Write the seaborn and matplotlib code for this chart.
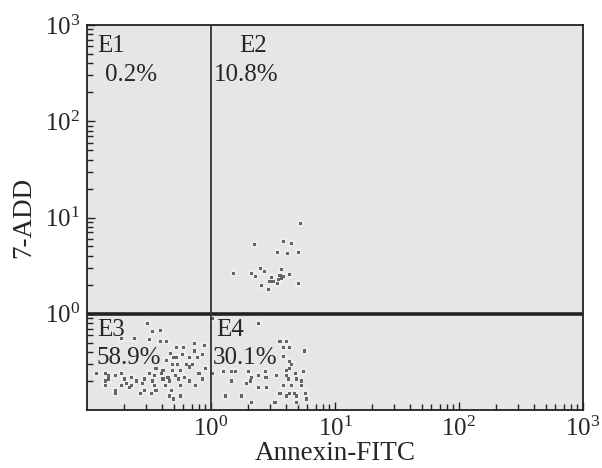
import numpy as np
import pandas as pd
import matplotlib
matplotlib.use("Agg")
import matplotlib.pyplot as plt
from matplotlib.ticker import LogLocator, NullFormatter
import seaborn as sns

sns.set_style("ticks")
plt.rcParams["font.family"] = ["Liberation Serif", "DejaVu Serif"]
plt.rcParams["mathtext.fontset"] = "custom"
plt.rcParams["mathtext.rm"] = "Liberation Serif"
plt.rcParams["mathtext.it"] = "Liberation Serif:italic"

# E2 cluster (late apoptotic)
e2_x = [5.30, 2.24, 4.46, 3.83, 3.45, 4.14, 5.05, 2.52, 2.69, 1.52, 2.13, 2.27, 3.08,
        3.71, 3.60, 3.71, 3.83, 3.53, 2.99, 3.18, 4.33, 2.56, 2.90, 5.05, 3.45]
e2_y = [8.70, 5.19, 5.40, 5.62, 4.36, 4.25, 4.36, 2.97, 2.75, 2.64, 2.64, 2.44, 2.40,
        2.86, 2.48, 2.34, 2.44, 2.25, 2.16, 2.16, 2.54, 1.95, 1.80, 2.05, 2.05]

# E3 cluster (live)
e3_x = [0.31, 0.34, 0.39, 0.19, 0.24, 0.32, 0.39, 0.44, 0.53, 0.60, 0.74, 0.88, 0.47,
        0.50, 0.53, 0.59, 0.67, 0.74, 0.78, 0.85, 0.44, 0.49, 0.54, 0.63, 0.71, 0.36,
        0.41, 0.49, 0.57, 0.67, 0.91, 0.12, 0.14, 0.15, 0.17, 0.19, 0.23, 0.32, 0.35,
        0.40, 0.45, 0.52, 0.61, 0.80, 0.14, 0.20, 0.25, 0.29, 0.34, 0.41, 0.46, 0.55,
        0.67, 0.85, 0.14, 0.19, 0.23, 0.28, 0.35, 0.43, 0.57, 0.17, 0.22, 0.29, 0.36,
        0.48, 0.75, 0.17, 0.33, 0.50, 0.57, 0.27, 0.15, 0.21, 0.46]
e3_y = [0.80, 0.65, 0.67, 0.55, 0.55, 0.54, 0.52, 0.51, 0.45, 0.45, 0.49, 0.47, 0.39,
        0.35, 0.35, 0.38, 0.35, 0.41, 0.35, 0.38, 0.33, 0.30, 0.30, 0.30, 0.30, 0.27,
        0.26, 0.26, 0.26, 0.28, 0.27, 0.24, 0.24, 0.23, 0.23, 0.24, 0.22, 0.24, 0.23,
        0.24, 0.22, 0.23, 0.22, 0.24, 0.20, 0.21, 0.20, 0.21, 0.20, 0.21, 0.20, 0.21,
        0.20, 0.21, 0.18, 0.18, 0.18, 0.19, 0.18, 0.18, 0.18, 0.16, 0.17, 0.16, 0.16,
        0.16, 0.18, 0.15, 0.15, 0.13, 0.14, 0.15, 0.21, 0.19, 0.14]

# E4 cluster (early apoptotic)
e4_x = [1.02, 2.41, 3.60, 4.07, 3.87, 4.27, 5.71, 3.87, 4.33, 4.46, 4.27, 4.07, 1.02,
        1.26, 1.47, 1.57, 2.00, 2.13, 2.41, 2.73, 2.78, 3.38, 4.07, 4.83, 5.53, 1.47,
        1.94, 2.07, 4.20, 4.89, 5.37, 3.83, 4.46, 2.41, 2.81, 5.37, 1.30, 1.77, 3.60,
        4.07, 4.33, 4.89, 4.75, 5.81, 3.28, 4.89, 5.89, 2.13]
e4_y = [0.89, 0.80, 0.51, 0.51, 0.45, 0.45, 0.41, 0.36, 0.32, 0.30, 0.27, 0.26, 0.24,
        0.25, 0.25, 0.25, 0.25, 0.22, 0.23, 0.25, 0.22, 0.23, 0.23, 0.24, 0.25, 0.20,
        0.19, 0.20, 0.21, 0.21, 0.20, 0.18, 0.18, 0.17, 0.17, 0.18, 0.14, 0.14, 0.15,
        0.14, 0.15, 0.14, 0.15, 0.15, 0.12, 0.12, 0.13, 0.12]

quadrants = ["E1", "E2", "E3", "E4"]
percents = ["0.2%", "10.8%", "58.9%", "30.1%"]

df = pd.DataFrame({
    "annexin": e2_x + e3_x + e4_x,
    "add": e2_y + e3_y + e4_y,
})

fig = plt.figure(figsize=(6.02, 4.68), dpi=100)
ax = fig.add_axes([0.1445, 0.1239, 0.8239, 0.8227])
ax.set_facecolor("#e6e6e6")

# soft halo under each event, then the event itself
sns.scatterplot(data=df, x="annexin", y="add", ax=ax, marker="o", s=30,
                color="#f2f2f2", edgecolor="none", alpha=0.6, legend=False)
sns.scatterplot(data=df, x="annexin", y="add", ax=ax, marker="s", s=5,
                color="#555555", edgecolor="none", alpha=0.9, legend=False)

ax.set_xscale("log")
ax.set_yscale("log")
ax.set_xlim(0.1, 1000)
ax.set_ylim(0.1, 1000)

ax.axhline(1, color="#222222", lw=2.6, zorder=3)
ax.axvline(1, color="#333333", lw=1.3, zorder=3)

ax.set_xticks([1, 10, 100, 1000])
ax.set_yticks([1, 10, 100, 1000])
ax.xaxis.set_minor_locator(LogLocator(base=10, subs=np.arange(2, 10)))
ax.yaxis.set_minor_locator(LogLocator(base=10, subs=np.arange(2, 10)))
ax.xaxis.set_minor_formatter(NullFormatter())
ax.yaxis.set_minor_formatter(NullFormatter())
ax.tick_params(which="both", direction="in", top=False, right=False, width=1.0, color="#222222")
ax.tick_params(which="major", length=6, labelsize=18, pad=5)
ax.tick_params(which="minor", length=4)

for sp in ax.spines.values():
    sp.set_linewidth(1.3)
    sp.set_color("#222222")

ax.set_xlabel("Annexin-FITC", fontsize=19.5, labelpad=0)
ax.set_ylabel("7-ADD", fontsize=19.5, labelpad=6)

# quadrant labels
pos = {"E1": (0.12, 600, 0.14, 300), "E2": (1.68, 600, 1.06, 300),
       "E3": (0.12, 0.68, 0.12, 0.345), "E4": (1.1, 0.68, 1.04, 0.345)}
for q, p in zip(quadrants, percents):
    x1, y1, x2, y2 = pos[q]
    ax.text(x1, y1, q, fontsize=18, va="center", ha="left")
    ax.text(x2, y2, p, fontsize=18, va="center", ha="left")

fig.savefig("out.png", dpi=100)
